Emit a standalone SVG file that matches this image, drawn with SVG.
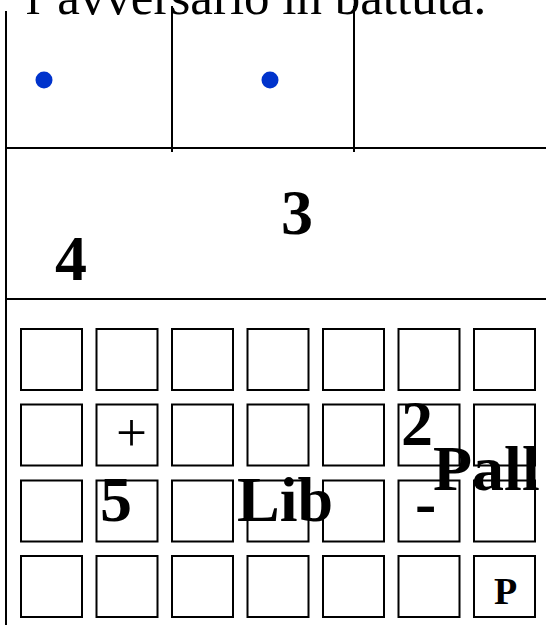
<svg xmlns="http://www.w3.org/2000/svg" width="546" height="627" viewBox="0 0 546 627">
<style>
.ln{stroke:#000;stroke-width:2;fill:none}
.sq{fill:#fff;stroke:#000;stroke-width:2}
.b{font-family:"Liberation Serif","Times New Roman",serif;font-weight:bold;font-size:64px;fill:#000}
.t{font-family:"Liberation Serif","Times New Roman",serif;fill:#000}
</style>
<rect width="546" height="627" fill="#fff"/>
<text class="t" x="26" y="14" style="font-size:51px">l’avversario in battuta.</text>
<g id="lines">
<line class="ln" x1="6" y1="11" x2="6" y2="625"/>
<line class="ln" x1="172" y1="6" x2="172" y2="152"/>
<line class="ln" x1="354" y1="6" x2="354" y2="152"/>
<line class="ln" x1="6" y1="148" x2="546" y2="148"/>
<line class="ln" x1="6" y1="299" x2="546" y2="299"/>
</g>
<g id="dots" fill="#0033cc">
<circle cx="44" cy="80" r="8.5"/>
<circle cx="270" cy="80" r="8.5"/>
</g>
<g id="grid">
<g id="r1">
<rect class="sq" x="21" y="329" width="61" height="61"/>
<rect class="sq" x="96.5" y="329" width="61" height="61"/>
<rect class="sq" x="172" y="329" width="61" height="61"/>
<rect class="sq" x="247.5" y="329" width="61" height="61"/>
<rect class="sq" x="323" y="329" width="61" height="61"/>
<rect class="sq" x="398.5" y="329" width="61" height="61"/>
<rect class="sq" x="474" y="329" width="61" height="61"/>
</g>
<g id="r2">
<rect class="sq" x="21" y="404.5" width="61" height="61"/>
<rect class="sq" x="96.5" y="404.5" width="61" height="61"/>
<rect class="sq" x="172" y="404.5" width="61" height="61"/>
<rect class="sq" x="247.5" y="404.5" width="61" height="61"/>
<rect class="sq" x="323" y="404.5" width="61" height="61"/>
<rect class="sq" x="398.5" y="404.5" width="61" height="61"/>
<rect class="sq" x="474" y="404.5" width="61" height="61"/>
</g>
<g id="r3">
<rect class="sq" x="21" y="480.5" width="61" height="61"/>
<rect class="sq" x="96.5" y="480.5" width="61" height="61"/>
<rect class="sq" x="172" y="480.5" width="61" height="61"/>
<rect class="sq" x="247.5" y="480.5" width="61" height="61"/>
<rect class="sq" x="323" y="480.5" width="61" height="61"/>
<rect class="sq" x="398.5" y="480.5" width="61" height="61"/>
<rect class="sq" x="474" y="480.5" width="61" height="61"/>
</g>
<g id="r4">
<rect class="sq" x="21" y="556" width="61" height="61"/>
<rect class="sq" x="96.5" y="556" width="61" height="61"/>
<rect class="sq" x="172" y="556" width="61" height="61"/>
<rect class="sq" x="247.5" y="556" width="61" height="61"/>
<rect class="sq" x="323" y="556" width="61" height="61"/>
<rect class="sq" x="398.5" y="556" width="61" height="61"/>
<rect class="sq" x="474" y="556" width="61" height="61"/>
</g>
</g>
<g id="labels">
<text class="b" x="281" y="234">3</text>
<text class="b" x="55" y="280">4</text>
<text class="t" x="116" y="451" style="font-size:55px">+</text>
<text class="b" x="401" y="445">2</text>
<text class="b" x="433" y="490">Pall</text>
<text class="b" x="100" y="521">5</text>
<text class="b" x="237" y="521">Lib</text>
<text class="b" x="415" y="524">-</text>
<text class="b" x="494" y="604" style="font-size:38px">P</text>
</g>
</svg>
